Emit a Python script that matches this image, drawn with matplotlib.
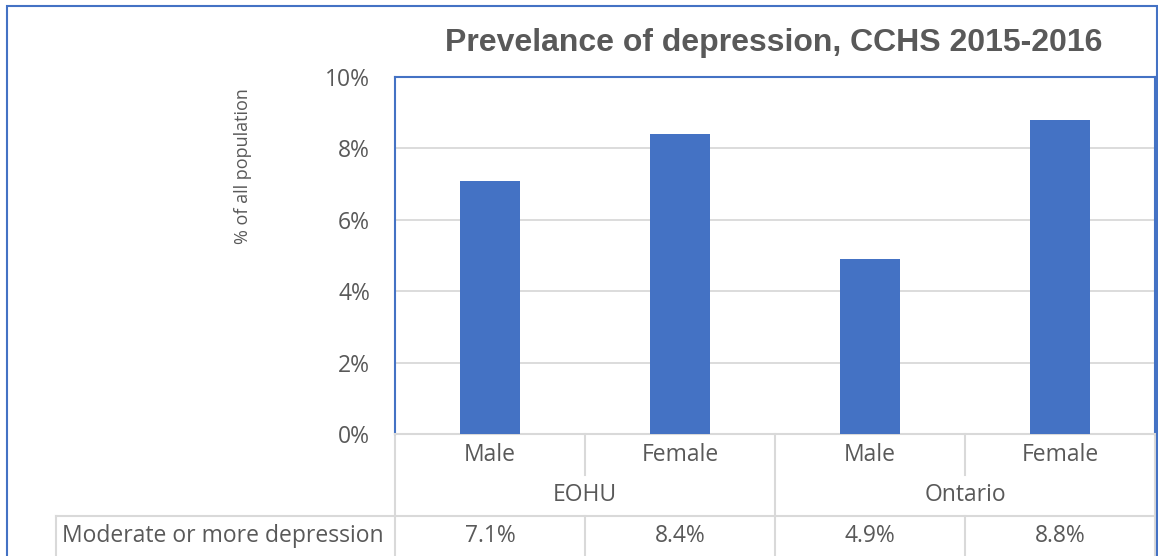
import matplotlib
matplotlib.use("Agg")
import matplotlib.pyplot as plt
from matplotlib.lines import Line2D
from matplotlib.patches import Rectangle

regions = ["EOHU", "Ontario"]
sexes = ["Male", "Female", "Male", "Female"]
values = [7.1, 8.4, 4.9, 8.8]
value_labels = ["7.1%", "8.4%", "4.9%", "8.8%"]
series_name = "Moderate or more depression"
yticks = [0, 2, 4, 6, 8, 10]
ytick_labels = ["0%", "2%", "4%", "6%", "8%", "10%"]
title = "Prevelance of depression, CCHS 2015-2016"
ylabel = "% of all population"

W, H = 1158, 556
BLUE = "#4472C4"
GREY = "#595959"
LGREY = "#D9D9D9"
FONT = ["Open Sans", "DejaVu Sans"]
FS = 16.5

fig = plt.figure(figsize=(W / 100, H / 100), dpi=100)
fig.patch.set_facecolor("white")

# outer chart border
fig.add_artist(Rectangle((7 / W, -0.1), (1157 - 7) / W, (H - 6) / H + 0.1,
                         transform=fig.transFigure, fill=False, edgecolor=BLUE, lw=1.5))

x0, x1, ytop, ybot = 395, 1155, 77, 434
ax = fig.add_axes([x0 / W, (H - ybot) / H, (x1 - x0) / W, (ybot - ytop) / H])
ax.set_xlim(-0.5, 3.5)
ax.set_ylim(0, 10)

xs = list(range(len(values)))
ax.bar(xs, values, width=0.316, color=BLUE, zorder=3)

ax.set_yticks(yticks)
ax.set_yticklabels(ytick_labels, fontsize=FS, color=GREY, family=FONT)
ax.tick_params(axis="y", length=0, pad=18)
ax.set_xticks([])
ax.yaxis.grid(True, color=LGREY, lw=1.3, zorder=0)
for s in ["left", "top", "right"]:
    ax.spines[s].set_color(BLUE)
    ax.spines[s].set_linewidth(1.5)
ax.spines["bottom"].set_color(LGREY)
ax.spines["bottom"].set_linewidth(1.5)

fig.text(774 / W, 1 - 43 / H, title, ha="center", va="center", fontsize=23,
         fontweight="bold", color=GREY, family=["Liberation Sans", "DejaVu Sans"])
fig.text(243 / W, 1 - 166 / H, ylabel, rotation=90, ha="center", va="center",
         fontsize=13, color=GREY, family=FONT)

# data table below the axis
ph = ybot - ytop
def yax(ypx):
    return (ybot - ypx) / ph

tr = ax.get_xaxis_transform()
r1, r2, r3, r4 = 434, 475, 516, 560
kw = dict(transform=tr, clip_on=False, color=LGREY, lw=1.5)
# vertical separators
for i in range(5):
    xv = i - 0.5
    if i in (0, 2, 4):
        ax.add_line(Line2D([xv, xv], [yax(r1), yax(r4)], **kw))
    else:
        ax.add_line(Line2D([xv, xv], [yax(r1), yax(r2)], **kw))
        ax.add_line(Line2D([xv, xv], [yax(r3), yax(r4)], **kw))
# horizontal line above value row, spanning header cell
hx0 = -0.5 - (x0 - 56) / ((x1 - x0) / 4)
ax.add_line(Line2D([hx0, 3.5], [yax(r3), yax(r3)], **kw))
ax.add_line(Line2D([hx0, hx0], [yax(r3), yax(r4)], **kw))

tkw = dict(transform=tr, ha="center", va="center", fontsize=FS, color=GREY, family=FONT, clip_on=False)
for i, s in enumerate(sexes):
    ax.text(i, yax(455), s, **tkw)
for j, r in enumerate(regions):
    ax.text(2 * j + 0.5, yax(495), r, **tkw)
for i, v in enumerate(value_labels):
    ax.text(i, yax(536), v, **tkw)
ax.text(hx0 + 0.03, yax(536), series_name, transform=tr, ha="left", va="center",
        fontsize=FS, color=GREY, family=FONT, clip_on=False)

fig.savefig("out.png", dpi=100)
